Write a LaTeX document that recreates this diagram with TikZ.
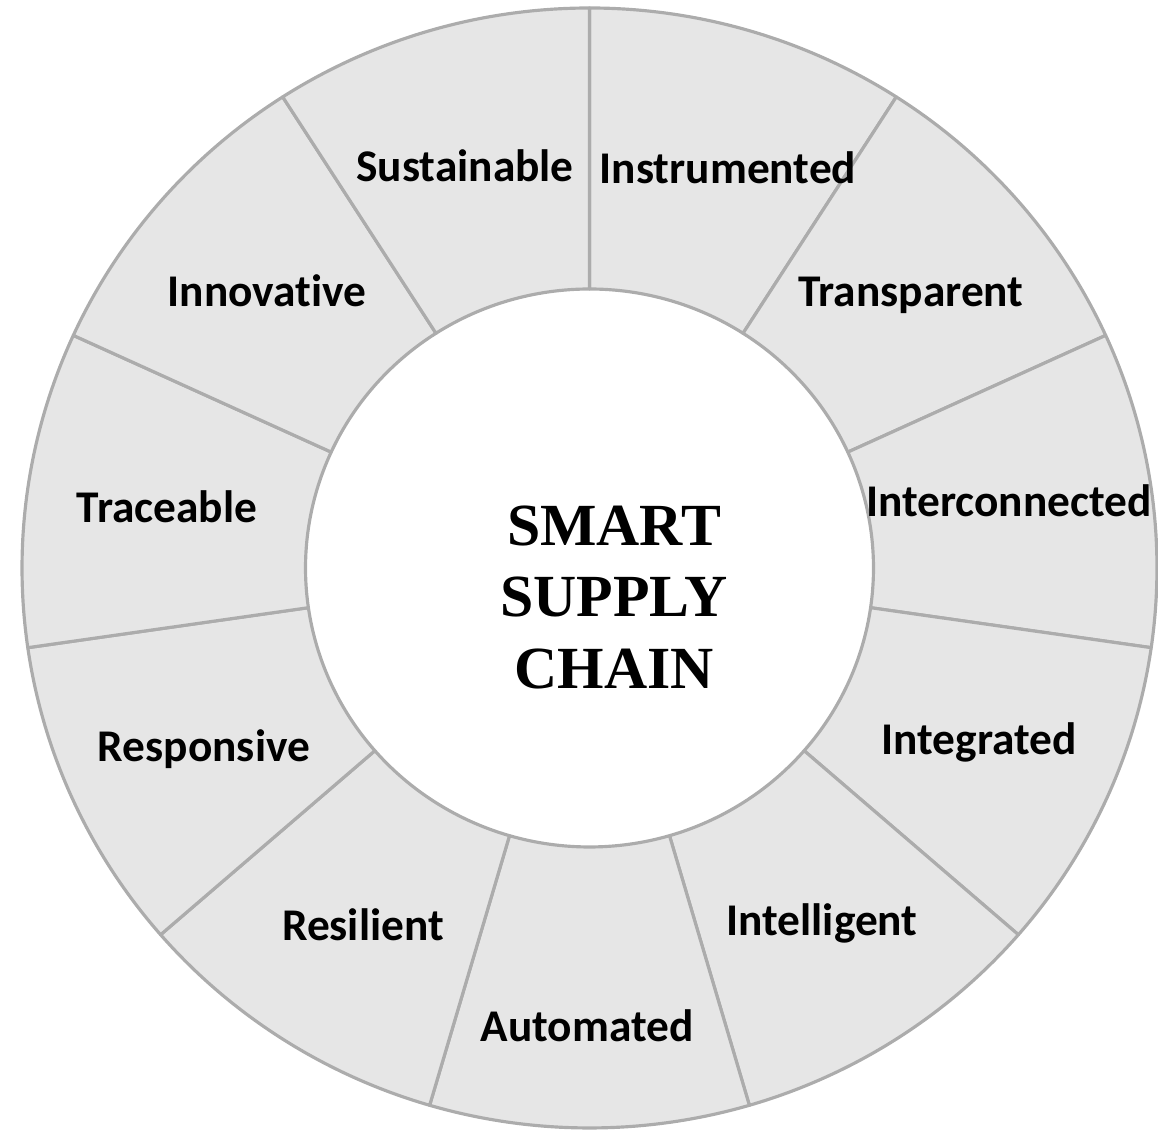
\documentclass[tikz,border=0pt]{standalone}
\usepackage{fontspec}
\setmainfont{Carlito}[Ligatures=CommonOff]
\newfontfamily\corefont{Liberation Serif}
\definecolor{ringgray}{RGB}{230,230,230}
\definecolor{edgegray}{RGB}{172,172,172}
\begin{document}
\begin{tikzpicture}[x=0.01cm,y=0.01cm,
    seg/.style={fill=ringgray,draw=edgegray,line width=0.9pt,line join=round},
    lbl/.style={anchor=base,inner sep=0pt,font=\fontsize{12.9}{15}\selectfont\bfseries}]
  \useasboundingbox (-589.5,-563) rectangle (568.5,568);
  % ring of eleven segments
  \foreach \k in {0,...,10}{
    \pgfmathsetmacro{\a}{90-\k*360/11}
    \pgfmathsetmacro{\b}{\a-360/11}
    \path[seg] ({567.5*cos(\a)},{560*sin(\a)})
      arc[start angle=\a,end angle=\b,x radius=567.5,y radius=560]
      -- ({284*cos(\b)},{279*sin(\b)})
      arc[start angle=\b,end angle=\a,x radius=284,y radius=279] -- cycle;
  }
  \node(core) at (24.5,-29.5) [align=center,font=\corefont\fontsize{17}{20.2}\selectfont\bfseries]
    {SMART\\SUPPLY\\CHAIN};

  \node(sust)   at (-124.5,386) [lbl] {Sustainable};
  \node(instr)  at (138.5,384)  [lbl] {Instrumented};
  \node(transp) at (321.5,261)  [lbl] {Transparent};
  \node(interc) at (419.5,51)   [lbl] {Interconnected};
  \node(integ)  at (389.5,-187) [lbl] {Integrated};
  \node(intel)  at (232.5,-367) [lbl] {Intelligent};
  \node(autom)  at (-2.5,-473)  [lbl] {Automated};
  \node(resil)  at (-226.5,-373) [lbl] {Resilient};
  \node(resp)   at (-385.5,-194) [lbl] {Responsive};
  \node(trace)  at (-422.5,45)  [lbl] {Traceable};
  \node(innov)  at (-322.5,261) [lbl] {Innovative};
\end{tikzpicture}
\end{document}
